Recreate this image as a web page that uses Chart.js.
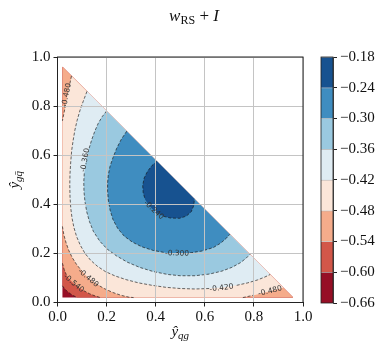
<!DOCTYPE html>
<html>
<head>
<meta charset="utf-8">
<script src="https://cdn.jsdelivr.net/npm/chart.js@4.4.1/dist/chart.umd.min.js"></script>
<style>
  html, body { margin: 0; padding: 0; background: #fff; }
  #wrap { position: relative; width: 389px; height: 347px; }
  #main { position: absolute; left: 0; top: 0; }
  #cbar { position: absolute; left: 305px; top: 0; }
</style>
</head>
<body>
<div id="wrap">
  <canvas id="main" width="389" height="347"></canvas>
  <canvas id="cbar" width="84" height="347"></canvas>
</div>
<script>
// contour levels and the RdBu band colours between them
const levels = [-0.66, -0.60, -0.54, -0.48, -0.42, -0.36, -0.30, -0.24, -0.18];
const bandColors = ['#960f26', '#d25749', '#f5ac8b', '#fbe6d9', '#dfecf3', '#9ac9e0', '#3f8dc0', '#175290'];
const axisTicks = [0, 0.2, 0.4, 0.6, 0.8, 1.0];

// domain of the data (y_qg + y_gq <= 0.98)
const triangle = [[0.02, 0.02], [0.02, 0.96], [0.96, 0.02]];

// contour lines, [y_qg, y_gqbar]
const c060 = [[0.02,0.068],[0.03,0.055],[0.04,0.045],[0.052,0.036],[0.065,0.028],[0.08,0.02]];
const c054 = [[0.02,0.16],[0.027,0.135],[0.036,0.113],[0.048,0.095],[0.065,0.078],[0.085,0.062],
  [0.107,0.048],[0.13,0.036],[0.155,0.026],[0.175,0.02]];
const c048 = [[0.02,0.31],[0.026,0.275],[0.035,0.243],[0.046,0.212],[0.06,0.183],[0.077,0.156],
  [0.1,0.127],[0.125,0.1],[0.155,0.077],[0.19,0.057],[0.225,0.041],[0.26,0.029],[0.29,0.022],[0.31,0.02]];
const c048r = [[0.755,0.02],[0.8,0.03],[0.85,0.042],[0.89,0.052],[0.92,0.06]];
const c048tl = [[0.057,0.923],[0.048,0.88],[0.04,0.84],[0.033,0.805],[0.026,0.77],[0.02,0.74]];
const c042 = [[0.12,0.86],[0.105,0.82],[0.092,0.784],[0.08,0.742],[0.071,0.703],[0.064,0.662],
  [0.058,0.621],[0.054,0.574],[0.051,0.526],[0.05,0.48],[0.051,0.43],[0.054,0.385],[0.059,0.345],
  [0.067,0.305],[0.078,0.268],[0.093,0.233],[0.112,0.2],[0.135,0.172],[0.162,0.148],[0.195,0.126],
  [0.235,0.108],[0.28,0.093],[0.33,0.08],[0.385,0.07],[0.44,0.062],[0.5,0.057],[0.56,0.055],
  [0.62,0.057],[0.68,0.062],[0.73,0.07],[0.775,0.08],[0.815,0.092],[0.845,0.104],[0.866,0.114]];
const c036 = [[0.2,0.78],[0.182,0.757],[0.166,0.73],[0.152,0.698],[0.139,0.662],[0.128,0.625],
  [0.119,0.594],[0.113,0.56],[0.109,0.526],[0.107,0.49],[0.108,0.45],[0.112,0.41],[0.119,0.37],
  [0.13,0.33],[0.146,0.29],[0.172,0.25],[0.203,0.217],[0.24,0.19],[0.285,0.164],[0.335,0.143],
  [0.39,0.126],[0.45,0.114],[0.5,0.109],[0.56,0.109],[0.62,0.116],[0.67,0.128],[0.71,0.143],
  [0.745,0.162],[0.768,0.18],[0.784,0.196]];
const c030 = [[0.282,0.698],[0.26,0.665],[0.241,0.628],[0.226,0.59],[0.214,0.555],[0.207,0.52],
  [0.204,0.487],[0.204,0.453],[0.207,0.418],[0.214,0.377],[0.226,0.338],[0.245,0.302],[0.272,0.27],
  [0.305,0.246],[0.343,0.227],[0.39,0.212],[0.44,0.203],[0.49,0.2],[0.54,0.202],[0.59,0.21],
  [0.635,0.224],[0.665,0.242],[0.688,0.262],[0.702,0.278]];
const c024 = [[0.405,0.575],[0.385,0.558],[0.367,0.535],[0.353,0.507],[0.347,0.477],[0.349,0.447],
  [0.357,0.42],[0.371,0.397],[0.39,0.377],[0.41,0.362],[0.432,0.351],[0.46,0.344],[0.498,0.343],
  [0.525,0.352],[0.545,0.37],[0.555,0.395],[0.558,0.422]];

// inline contour labels
const labelTexts  = ['-0.480', '-0.360', '-0.240', '-0.300', '-0.420', '-0.480', '-0.480', '-0.540'];
const labelX      = [0.037, 0.113, 0.392, 0.487, 0.668, 0.866, 0.125, 0.066];
const labelY      = [0.845, 0.58, 0.376, 0.2, 0.059, 0.046, 0.1, 0.078];
const labelAngles = [-79, -80, 42, 1, -7, -14, 40, 40];

const serif = '"Liberation Serif", "DejaVu Serif", serif';
const textColor = '#111';

const pts = arr => arr.map(p => ({ x: p[0], y: p[1] }));
const B = triangle[1], C = triangle[2];

// filled bands: each polygon is the region above a level, painted bottom-up
const fillShapes = [
  triangle,
  c060.concat([C, B]),
  c054.concat([C, B]),
  c048.concat(c048r, c048tl),
  c042,
  c036,
  c030,
  c024
];

const lineSets = [
  { data: c060, labels: [] },
  { data: c054, labels: [7] },
  { data: c048, labels: [6] },
  { data: c048r, labels: [5] },
  { data: c048tl, labels: [0] },
  { data: c042, labels: [4] },
  { data: c036, labels: [1] },
  { data: c030, labels: [3] },
  { data: c024, labels: [2] }
];

// hide the bits of a contour that sit under its label
function nearLabel(ctx) {
  const ds = ctx.chart.data.datasets[ctx.datasetIndex];
  if (!ds.labelIdx || !ds.labelIdx.length) return false;
  const sx = ctx.chart.scales.x, sy = ctx.chart.scales.y;
  const mx = (ctx.p0.x + ctx.p1.x) / 2, my = (ctx.p0.y + ctx.p1.y) / 2;
  return ds.labelIdx.some(i => {
    const lx = sx.getPixelForValue(labelX[i]), ly = sy.getPixelForValue(labelY[i]);
    return Math.hypot(mx - lx, my - ly) < 11;
  });
}

const datasets = [];
lineSets.forEach(l => {
  datasets.push({
    data: pts(l.data),
    labelIdx: l.labels,
    showLine: true,
    fill: false,
    borderColor: 'rgba(20,20,20,0.8)',
    borderWidth: 0.8,
    borderDash: [3, 1.8],
    order: 0,
    segment: {
      borderColor: ctx => nearLabel(ctx) ? 'rgba(0,0,0,0)' : undefined
    }
  });
});
fillShapes.forEach((shape, i) => {
  datasets.push({
    data: pts(shape),
    showLine: true,
    fill: 'shape',
    backgroundColor: bandColors[i],
    borderWidth: 0,
    order: fillShapes.length - i
  });
});

function drawRuns(ctx, runs, cx, baseY) {
  let w = 0;
  runs.forEach(r => { ctx.font = r.font; r.w = ctx.measureText(r.text).width; w += r.w; });
  let x = cx - w / 2;
  runs.forEach(r => {
    ctx.font = r.font;
    ctx.fillText(r.text, x, baseY + (r.dy || 0));
    x += r.w;
  });
}

const decorations = {
  id: 'decorations',
  afterDraw(chart) {
    const ctx = chart.ctx;
    const area = chart.chartArea;
    const sx = chart.scales.x, sy = chart.scales.y;
    ctx.save();
    // frame
    ctx.strokeStyle = '#222';
    ctx.lineWidth = 1;
    ctx.strokeRect(area.left, area.top, area.right - area.left, area.bottom - area.top);

    // contour labels
    ctx.fillStyle = '#333';
    ctx.font = '7.5px "DejaVu Sans", sans-serif';
    ctx.textAlign = 'center';
    ctx.textBaseline = 'middle';
    labelTexts.forEach((t, i) => {
      ctx.save();
      ctx.translate(sx.getPixelForValue(labelX[i]), sy.getPixelForValue(labelY[i]));
      ctx.rotate(labelAngles[i] * Math.PI / 180);
      ctx.fillText(t, 0, 0);
      ctx.restore();
    });

    // title and axis titles
    ctx.fillStyle = textColor;
    ctx.textAlign = 'left';
    ctx.textBaseline = 'alphabetic';
    drawRuns(ctx, [
      { text: 'w', font: 'italic 17px ' + serif },
      { text: 'RS', font: '12px ' + serif, dy: 3 },
      { text: ' + ', font: '17px ' + serif },
      { text: 'I', font: 'italic 17px ' + serif }
    ], 194, 21);
    drawRuns(ctx, [
      { text: '\u0177', font: 'italic 15px ' + serif },
      { text: 'qg', font: 'italic 11px ' + serif, dy: 3 }
    ], (area.left + area.right) / 2, 336);
    ctx.save();
    ctx.translate(19, (area.top + area.bottom) / 2);
    ctx.rotate(-Math.PI / 2);
    drawRuns(ctx, [
      { text: '\u0177', font: 'italic 15px ' + serif },
      { text: 'gq\u0304', font: 'italic 11px ' + serif, dy: 3 }
    ], 0, 0);
    ctx.restore();
    ctx.restore();
  }
};

const tickFont = { family: serif, size: 15 };
const gridOpts = { color: '#c4c4c4', lineWidth: 1, tickColor: '#222', tickLength: 4, tickWidth: 1, z: 1 };

new Chart(document.getElementById('main'), {
  type: 'scatter',
  data: { datasets: datasets },
  options: {
    responsive: false,
    animation: false,
    events: [],
    layout: { padding: { left: 0, top: 57, right: 86, bottom: 0 } },
    elements: { point: { radius: 0, hitRadius: 0 }, line: { tension: 0 } },
    plugins: { legend: { display: false }, tooltip: { enabled: false } },
    scales: {
      x: {
        type: 'linear', min: 0, max: 1,
        afterBuildTicks: s => { s.ticks = axisTicks.map(v => ({ value: v })); },
        afterFit: s => { s.height = 44.5; },
        ticks: { callback: v => v.toFixed(1), font: tickFont, color: textColor, padding: 2, maxRotation: 0, z: 1 },
        grid: gridOpts,
        border: { color: '#222', width: 1, z: 2 }
      },
      y: {
        type: 'linear', min: 0, max: 1,
        afterBuildTicks: s => { s.ticks = axisTicks.map(v => ({ value: v })); },
        afterFit: s => { s.width = 57.5; },
        ticks: { callback: v => v.toFixed(1), font: tickFont, color: textColor, padding: 3, z: 1 },
        grid: gridOpts,
        border: { color: '#222', width: 1, z: 2 }
      }
    }
  },
  plugins: [decorations]
});

// colour bar
const cbFrame = {
  id: 'cbFrame',
  afterDraw(chart) {
    const a = chart.chartArea, ctx = chart.ctx;
    ctx.save();
    ctx.strokeStyle = '#222';
    ctx.lineWidth = 0.8;
    ctx.strokeRect(a.left, a.top, a.right - a.left, a.bottom - a.top);
    ctx.restore();
  }
};

new Chart(document.getElementById('cbar'), {
  type: 'bar',
  data: {
    labels: [''],
    datasets: bandColors.map((c, i) => ({
      data: [[levels[i], levels[i + 1]]],
      backgroundColor: c,
      borderColor: 'rgba(150,150,150,0.7)',
      borderWidth: { top: 0.8, right: 0, bottom: 0, left: 0 },
      borderSkipped: false,
      barPercentage: 1,
      categoryPercentage: 1
    }))
  },
  options: {
    responsive: false,
    animation: false,
    events: [],
    layout: { padding: { left: 16, top: 57, right: 0, bottom: 44 } },
    plugins: { legend: { display: false }, tooltip: { enabled: false } },
    scales: {
      x: { display: false, stacked: true },
      y: {
        position: 'right',
        stacked: false,
        min: levels[0], max: levels[levels.length - 1],
        afterBuildTicks: s => { s.ticks = levels.map(v => ({ value: v })); },
        afterFit: s => { s.width = 56; },
        ticks: { callback: v => '\u2212' + Math.abs(v).toFixed(2), font: tickFont, color: textColor, padding: 3 },
        grid: { drawOnChartArea: false, tickColor: '#222', tickLength: 4, tickWidth: 1 },
        border: { color: '#222', width: 0.8 }
      }
    }
  },
  plugins: [cbFrame]
});
</script>
</body>
</html>
